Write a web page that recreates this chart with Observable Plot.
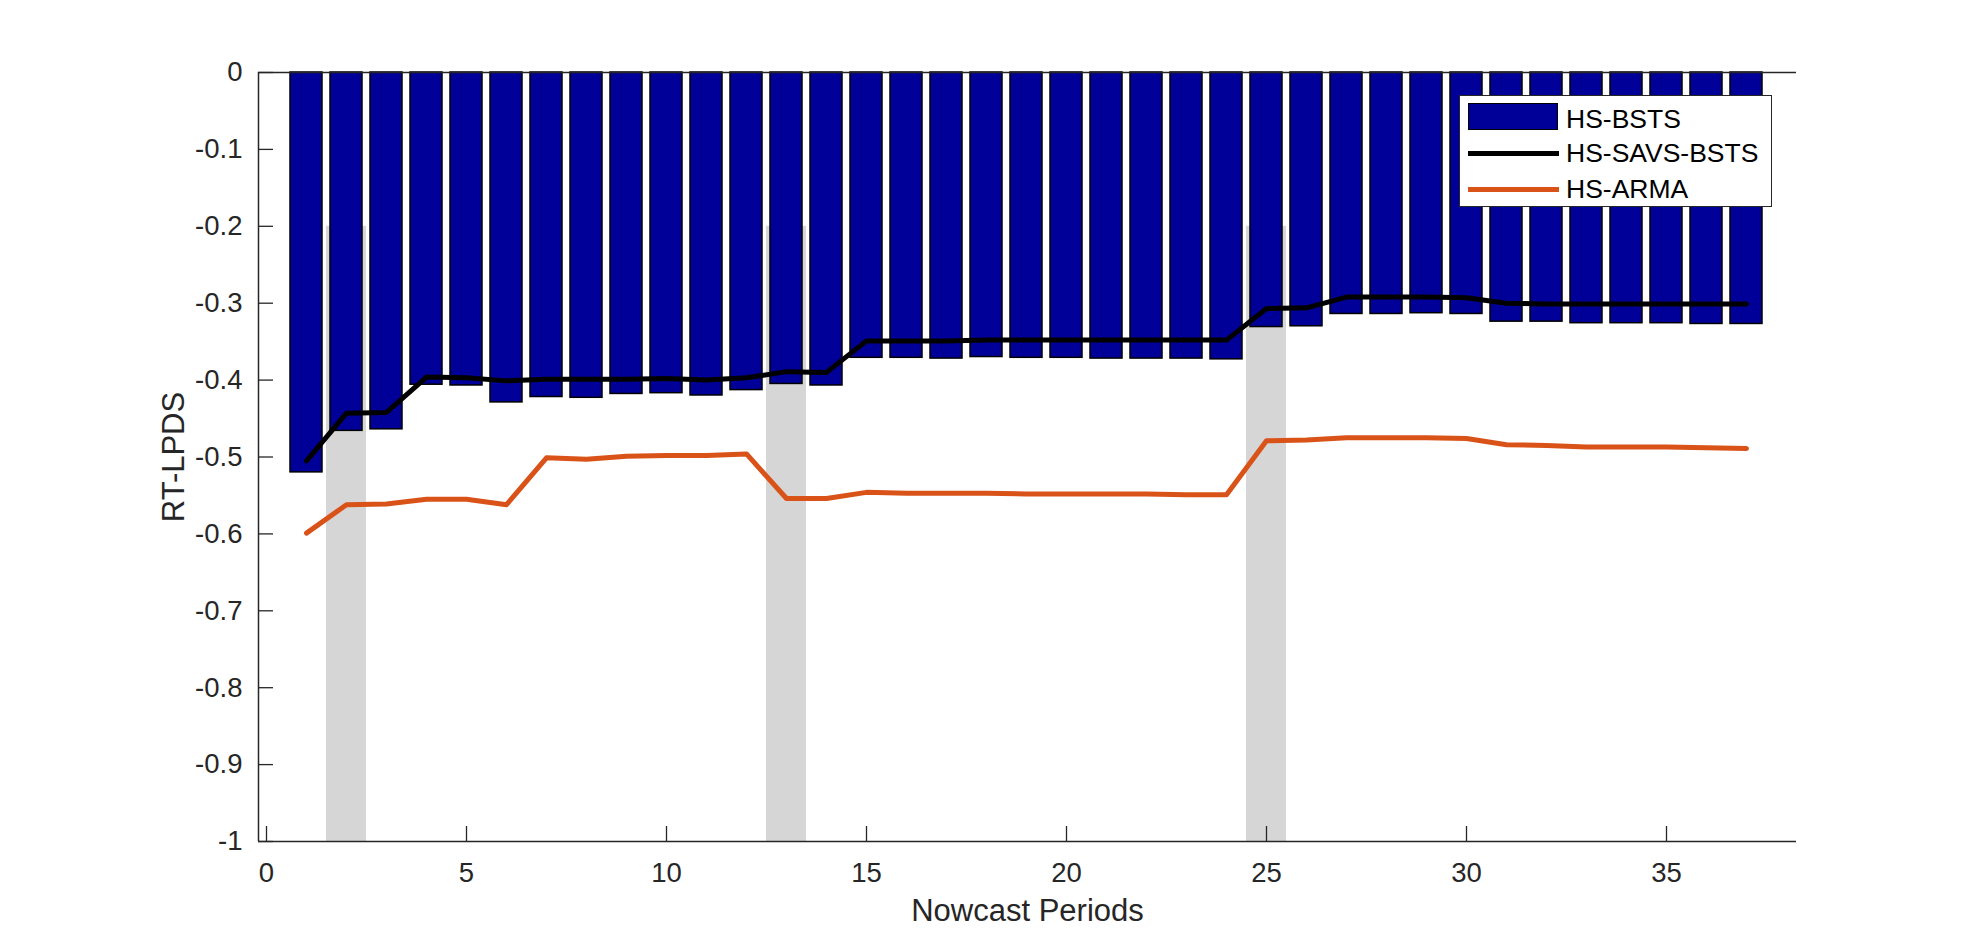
<!DOCTYPE html>
<html>
<head>
<meta charset="utf-8">
<script src="https://cdn.jsdelivr.net/npm/d3@7"></script>
<script src="https://cdn.jsdelivr.net/npm/@observablehq/plot@0.6"></script>
<style>
  html, body { margin: 0; padding: 0; background: #fff; }
  #wrap { position: relative; width: 1985px; height: 946px; font-family: "Liberation Sans", Arial, Helvetica, sans-serif; }
  #legend { position: absolute; left: 1459px; top: 95px; width: 311px; height: 110px; border: 1.5px solid #262626; background: #fff; }
  #legend .sw { position: absolute; left: 8px; width: 91px; }
  #legend .lab { position: absolute; left: 106px; height: 30px; line-height: 30px; font-size: 26.5px; color: #000; white-space: nowrap; }
</style>
</head>
<body>
<div id="wrap"></div>
<script>
// ---- data ----
const periods = [1,2,3,4,5,6,7,8,9,10,11,12,13,14,15,16,17,18,19,20,21,22,23,24,25,26,27,28,29,30,31,32,33,34,35,36,37];
const hsBsts = [-0.520,-0.466,-0.464,-0.406,-0.407,-0.429,-0.422,-0.423,-0.418,-0.417,-0.420,-0.413,-0.405,-0.407,
                -0.371,-0.371,-0.372,-0.370,-0.371,-0.371,-0.372,-0.372,-0.372,-0.373,
                -0.331,-0.330,-0.314,-0.314,-0.313,-0.314,-0.324,-0.324,-0.326,-0.326,-0.326,-0.327,-0.327];
const hsSavsBsts = [-0.505,-0.443,-0.442,-0.396,-0.397,-0.401,-0.399,-0.399,-0.399,-0.398,-0.400,-0.397,-0.389,-0.390,
                    -0.349,-0.349,-0.349,-0.348,-0.348,-0.348,-0.348,-0.348,-0.348,-0.348,
                    -0.307,-0.306,-0.292,-0.292,-0.292,-0.293,-0.300,-0.301,-0.301,-0.301,-0.301,-0.301,-0.301];
const hsArma = [-0.599,-0.562,-0.561,-0.555,-0.555,-0.562,-0.501,-0.503,-0.499,-0.498,-0.498,-0.496,-0.554,-0.554,
                -0.546,-0.547,-0.547,-0.547,-0.548,-0.548,-0.548,-0.548,-0.549,-0.549,
                -0.479,-0.478,-0.475,-0.475,-0.475,-0.476,-0.484,-0.485,-0.487,-0.487,-0.487,-0.488,-0.489];
const shadeStart = [1.5, 12.5, 24.5];
const shadeEnd = [2.5, 13.5, 25.5];
const shadeTop = -0.2;
const shadeBottom = -1;
const xTicks = [0,5,10,15,20,25,30,35];
const yTicks = [0,-0.1,-0.2,-0.3,-0.4,-0.5,-0.6,-0.7,-0.8,-0.9,-1];
const xDomain = [-0.2, 38.25];
const yDomain = [-1, 0];
const barHalfWidth = 0.4;
const seriesNames = ["HS-BSTS", "HS-SAVS-BSTS", "HS-ARMA"];
const seriesColors = ["#000099", "#000000", "#D95319"];

// ---- tables ----
const barData = periods.map((p, i) => ({p, v: hsBsts[i]}));
const savsData = periods.map((p, i) => ({p, v: hsSavsBsts[i]}));
const armaData = periods.map((p, i) => ({p, v: hsArma[i]}));
const shadeData = shadeStart.map((s, i) => ({x1: s, x2: shadeEnd[i]}));

// ---- layout ----
const W = 1985, H = 946, mL = 258, mR = 189, mT = 72, mB = 105;
const plotW = W - mL - mR, plotH = H - mT - mB, tickLen = 15;
const font = '"Liberation Sans", Arial, Helvetica, sans-serif';
const axisColor = "#262626";

const chart = Plot.plot({
  width: W, height: H,
  marginLeft: mL, marginRight: mR, marginTop: mT, marginBottom: mB,
  style: {fontFamily: font, color: axisColor, background: "#fff", overflow: "visible"},
  x: {domain: xDomain},
  y: {domain: yDomain},
  marks: [
    Plot.rect(shadeData, {x1: "x1", x2: "x2", y1: () => shadeTop, y2: () => shadeBottom, fill: "#d6d6d6"}),
    Plot.rect(barData, {x1: d => d.p - barHalfWidth, x2: d => d.p + barHalfWidth, y1: () => 0, y2: "v",
      fill: seriesColors[0], stroke: "#000", strokeWidth: 1.5}),
    Plot.ruleY([0], {stroke: axisColor, strokeWidth: 1.5}),
    Plot.line(savsData, {x: "p", y: "v", stroke: seriesColors[1], strokeWidth: 5}),
    Plot.line(armaData, {x: "p", y: "v", stroke: seriesColors[2], strokeWidth: 5}),
    // axis lines
    Plot.ruleX([xDomain[0]], {stroke: axisColor, strokeWidth: 1.5}),
    Plot.ruleY([yDomain[0]], {stroke: axisColor, strokeWidth: 1.5}),
    // inward ticks
    Plot.tickY(yTicks, {y: d => d, insetRight: plotW - tickLen, stroke: axisColor, strokeWidth: 1.3}),
    Plot.tickX(xTicks, {x: d => d, insetTop: plotH - tickLen, stroke: axisColor, strokeWidth: 1.3}),
    // tick labels
    Plot.axisY({ticks: yTicks, tickFormat: d => String(d), tickSize: 0, tickPadding: 16, label: null,
      fontSize: 27.5, fill: axisColor}),
    Plot.axisX({ticks: xTicks, tickFormat: d => String(d), tickSize: 0, tickPadding: 21, label: null,
      fontSize: 27.5, fill: axisColor}),
    // axis titles
    Plot.axisY({ticks: [], tickSize: 0, label: "RT-LPDS", labelAnchor: "center", labelArrow: "none", labelOffset: 97,
      fontSize: 31, fill: axisColor}),
    Plot.axisX({ticks: [], tickSize: 0, label: "Nowcast Periods", labelAnchor: "center", labelArrow: "none", labelOffset: 79,
      fontSize: 31, fill: axisColor})
  ]
});

const wrap = document.getElementById("wrap");
wrap.appendChild(chart);

// ---- legend ----
const legend = document.createElement("div");
legend.id = "legend";
const rows = [22.5, 57, 93];
seriesNames.forEach((name, i) => {
  const sw = document.createElement("div");
  sw.className = "sw";
  if (i === 0) {
    sw.style.top = "7px"; sw.style.height = "25px";
    sw.style.background = seriesColors[0];
    sw.style.border = "1.5px solid #000";
    sw.style.width = "88px";
  } else {
    sw.style.top = (rows[i] - 2.5) + "px"; sw.style.height = "5px";
    sw.style.background = seriesColors[i];
  }
  legend.appendChild(sw);
  const lab = document.createElement("div");
  lab.className = "lab";
  lab.style.top = (rows[i] - 15) + "px";
  lab.textContent = name;
  legend.appendChild(lab);
});
wrap.appendChild(legend);
</script>
</body>
</html>
